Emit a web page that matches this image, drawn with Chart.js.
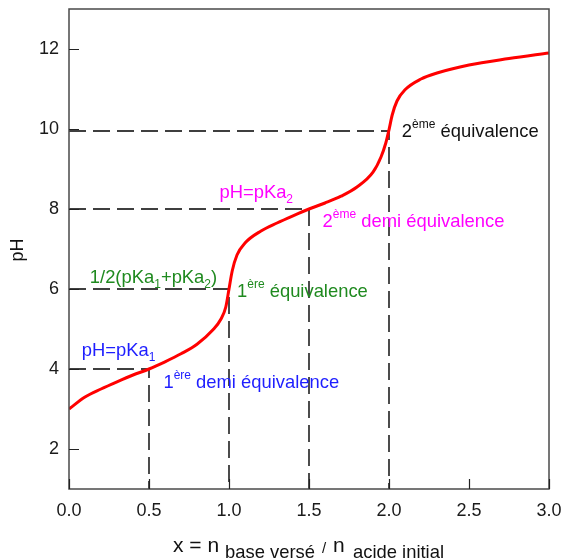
<!DOCTYPE html>
<html>
<head>
<meta charset="utf-8">
<script src="https://cdn.jsdelivr.net/npm/chart.js@4.4.0/dist/chart.umd.min.js"></script>
<style>
  html, body { margin: 0; padding: 0; background: #fff; }
</style>
</head>
<body>
<canvas id="canvas" width="563" height="560"></canvas>
<script>
// titration curve
const xValues = [0, 0.1, 0.2, 0.3, 0.4, 0.5, 0.6, 0.7, 0.8, 0.9, 0.95, 0.98, 1.0, 1.02, 1.05, 1.1, 1.2, 1.3, 1.4, 1.5,
  1.6, 1.7, 1.8, 1.9, 1.95, 1.98, 2.0, 2.02, 2.05, 2.1, 2.2, 2.3, 2.5, 2.75, 3.0];
const phValues = [3.0, 3.3, 3.5, 3.68, 3.85, 4.0, 4.18, 4.38, 4.62, 4.98, 5.25, 5.55, 6.0, 6.45, 6.85, 7.15, 7.45, 7.65, 7.83, 8.0,
  8.15, 8.32, 8.55, 8.92, 9.3, 9.65, 9.98, 10.35, 10.7, 10.98, 11.25, 11.4, 11.6, 11.76, 11.9];

const xTicks = [0, 0.5, 1.0, 1.5, 2.0, 2.5, 3.0];
const yTicks = [2, 4, 6, 8, 10, 12];

// dashed guides : x of the point, pH of the point
const guideX = [0.5, 1.0, 1.5, 2.0];
const guidePH = [4, 6, 8, 9.95];

const FONT = '"Liberation Sans", Arial, Helvetica, sans-serif';

// annotation texts (anchor = left end / baseline, in data units)
const notes = [
  { x: 0.08, y: 4.325, color: '#1e1eff', parts: [['pH=pKa'], ['1', 'sub']] },
  { x: 0.59, y: 3.53, color: '#1e1eff', parts: [['1'], ['ère', 'sup'], [' demi équivalence']] },
  { x: 0.13, y: 6.15, color: '#1f8a1f', parts: [['1/2(pKa'], ['1', 'sub'], ['+pKa'], ['2', 'sub'], [')']] },
  { x: 1.05, y: 5.8, color: '#1f8a1f', parts: [['1'], ['ère', 'sup'], [' équivalence']] },
  { x: 0.94, y: 8.28, color: '#ff00ff', parts: [['pH=pKa'], ['2', 'sub']] },
  { x: 1.585, y: 7.56, color: '#ff00ff', parts: [['2'], ['ème', 'sup'], [' demi équivalence']] },
  { x: 2.08, y: 9.79, color: '#111111', parts: [['2'], ['ème', 'sup'], [' équivalence']] }
];

function drawParts(ctx, x, y, parts, big, small) {
  parts.forEach(p => {
    const kind = p[1];
    ctx.font = (kind ? small : big) + 'px ' + FONT;
    let dy = 0;
    if (kind === 'sup') dy = -9;
    if (kind === 'sub') dy = 5;
    ctx.fillText(p[0], x, y + dy);
    x += ctx.measureText(p[0]).width;
  });
}

const curve = xValues.map((v, i) => ({ x: v, y: phValues[i] }));

const guideSets = guideX.map((gx, i) => ({
  data: [{ x: 0, y: guidePH[i] }, { x: gx, y: guidePH[i] }, { x: gx, y: 1 }],
  borderColor: '#000',
  borderWidth: 1.4,
  borderDash: [17, 7],
  pointRadius: 0,
  tension: 0,
  order: 2
}));

function noPad(s) {
  s.paddingTop = 0;
  s.paddingBottom = 0;
  s.paddingLeft = 0;
  s.paddingRight = 0;
}

const extras = {
  id: 'extras',
  afterDatasetsDraw(chart) {
    const ctx = chart.ctx;
    const xs = chart.scales.x, ys = chart.scales.y;
    const a = chart.chartArea;
    ctx.save();
    // frame
    ctx.strokeStyle = '#4a4a4a';
    ctx.lineWidth = 1.5;
    ctx.strokeRect(a.left, a.top, a.right - a.left, a.bottom - a.top);
    // inward ticks
    ctx.strokeStyle = '#222';
    ctx.lineWidth = 1.2;
    ctx.beginPath();
    xTicks.forEach(v => {
      const px = Math.round(xs.getPixelForValue(v)) + 0.5;
      ctx.moveTo(px, a.bottom);
      ctx.lineTo(px, a.bottom - 10);
    });
    yTicks.forEach(v => {
      const py = Math.round(ys.getPixelForValue(v)) + 0.5;
      ctx.moveTo(a.left, py);
      ctx.lineTo(a.left + 10, py);
    });
    ctx.stroke();

    // notes
    ctx.textAlign = 'left';
    ctx.textBaseline = 'alphabetic';
    notes.forEach(n => {
      ctx.fillStyle = n.color;
      drawParts(ctx, xs.getPixelForValue(n.x), ys.getPixelForValue(n.y), n.parts, 18.4, 12);
    });

    // axis titles
    ctx.fillStyle = '#111';
    ctx.font = '21px ' + FONT;
    ctx.fillText('x = n', 173, 551.5);
    ctx.font = '18.4px ' + FONT;
    ctx.fillText('base versé', 225, 558);
    ctx.font = '15px ' + FONT;
    ctx.fillText('/', 322, 553);
    ctx.font = '21px ' + FONT;
    ctx.fillText('n', 333, 551.5);
    ctx.font = '18.4px ' + FONT;
    ctx.fillText('acide initial', 353, 558);

    ctx.translate(18.5, 250);
    ctx.rotate(-Math.PI / 2);
    ctx.textAlign = 'center';
    ctx.textBaseline = 'middle';
    ctx.font = '18px ' + FONT;
    ctx.fillText('pH', 0, 0);
    ctx.restore();
  }
};

const ctx = document.getElementById('canvas');

new Chart(ctx, {
  type: 'line',
  data: {
    datasets: [{
      data: curve,
      borderColor: '#ff0000',
      borderWidth: 3,
      pointRadius: 0,
      cubicInterpolationMode: 'monotone',
      order: 1
    }, ...guideSets]
  },
  options: {
    responsive: false,
    animation: false,
    layout: { padding: { left: 0, top: 9, right: 14, bottom: 0 } },
    plugins: { legend: { display: false }, tooltip: { enabled: false } },
    scales: {
      x: {
        type: 'linear',
        min: 0,
        max: 3,
        afterBuildTicks: s => { s.ticks = xTicks.map(v => ({ value: v })); },
        afterFit: s => { s.height = 71; noPad(s); },
        grid: { display: false, drawTicks: false },
        border: { display: false },
        ticks: {
          padding: 11,
          color: '#1a1a1a',
          font: { family: FONT, size: 18 },
          maxRotation: 0,
          callback: v => Number(v).toFixed(1)
        }
      },
      y: {
        type: 'linear',
        min: 1,
        max: 13,
        afterBuildTicks: s => { s.ticks = yTicks.map(v => ({ value: v })); },
        afterFit: s => { s.width = 69; noPad(s); },
        grid: { display: false, drawTicks: false },
        border: { display: false },
        ticks: {
          padding: 10,
          color: '#1a1a1a',
          font: { family: FONT, size: 18 }
        }
      }
    }
  },
  plugins: [extras]
});
</script>
</body>
</html>
